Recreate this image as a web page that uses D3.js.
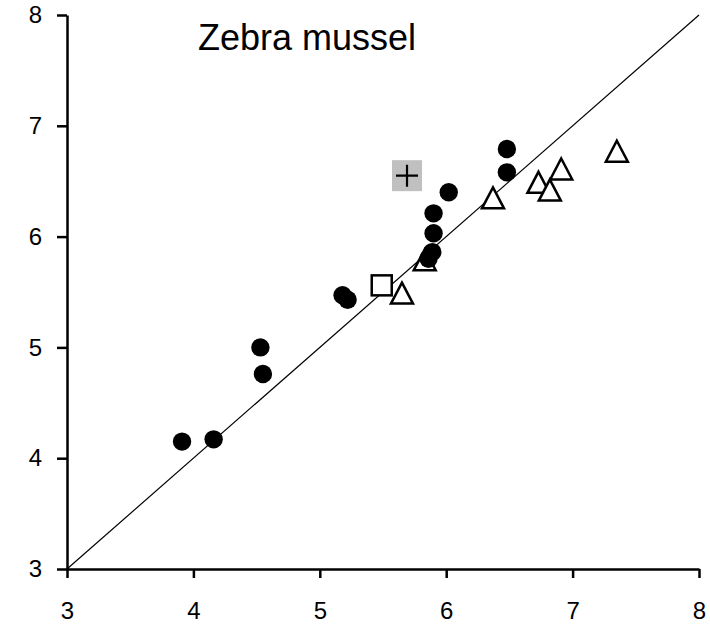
<!DOCTYPE html>
<html>
<head>
<meta charset="utf-8">
<script src="https://cdn.jsdelivr.net/npm/d3@7"></script>
<style>
  body { margin: 0; background: #fff; }
  svg { display: block; font-family: Arial, "Liberation Sans", sans-serif; }
</style>
</head>
<body>
<svg id="chart" width="710" height="629"></svg>
<script>
// chart values
var title = "Zebra mussel";
var ticks = [3, 4, 5, 6, 7, 8];

var circleX = [3.91, 4.16, 4.53, 4.55, 5.18, 5.22, 5.90, 5.90, 5.89, 5.86, 6.02, 6.48, 6.48];
var circleY = [4.15, 4.17, 5.00, 4.76, 5.47, 5.43, 6.21, 6.03, 5.86, 5.80, 6.40, 6.79, 6.58];

var triangleX = [5.65, 5.83, 6.37, 6.73, 6.82, 6.91, 7.35];
var triangleY = [5.49, 5.79, 6.35, 6.49, 6.42, 6.61, 6.77];

var squareX = [5.49];
var squareY = [5.56];

var plusX = [5.69];
var plusY = [6.55];

var svg = d3.select("#chart");

var x = d3.scaleLinear().domain([3, 8]).range([67, 699]);
var y = d3.scaleLinear().domain([3, 8]).range([569, 15]);

function pts(xs, ys){
	return xs.map(function(v, i){ return {x: v, y: ys[i]}; });
}

// 1:1 line
svg.append("line")
	.attr("x1", x(3)).attr("y1", y(3))
	.attr("x2", x(8)).attr("y2", y(8))
	.attr("stroke", "#000")
	.attr("stroke-width", 1.2);

// axes
var xAxis = svg.append("g")
	.attr("transform", "translate(0," + y(3) + ")")
	.call(d3.axisBottom(x).tickValues(ticks).tickFormat(d3.format("d"))
		.tickSize(9).tickPadding(24).tickSizeOuter(0));
var yAxis = svg.append("g")
	.attr("transform", "translate(" + x(3) + ",0)")
	.call(d3.axisLeft(y).tickValues(ticks).tickFormat(d3.format("d"))
		.tickSize(10).tickPadding(15).tickSizeOuter(0));

[xAxis, yAxis].forEach(function(a){
	a.select(".domain").attr("stroke-width", 2.5);
	a.selectAll(".tick line").attr("stroke-width", 2.5);
	a.selectAll("text")
		.attr("font-family", "Arial, 'Liberation Sans', sans-serif")
		.attr("font-size", 24)
		.attr("fill", "#000");
});
xAxis.selectAll("text").attr("dy", "0.71em");

svg.append("text")
	.attr("x", 198)
	.attr("y", 50)
	.attr("font-size", 36)
	.attr("fill", "#000")
	.text(title);

// plus marker with grey box
var plus = svg.selectAll("g.plus")
	.data(pts(plusX, plusY))
	.enter()
	.append("g")
	.attr("class", "plus")
	.attr("transform", function(d){ return "translate(" + x(d.x) + "," + y(d.y) + ")"; });
plus.append("rect")
	.attr("x", -15).attr("y", -15.5)
	.attr("width", 30).attr("height", 31)
	.attr("fill", "#c0c0c0");
plus.append("path")
	.attr("d", "M-11,0H11M0,-11V11")
	.attr("stroke", "#000")
	.attr("stroke-width", 2.2);

// square
svg.selectAll("rect.sq")
	.data(pts(squareX, squareY))
	.enter()
	.append("rect")
	.attr("class", "sq")
	.attr("x", function(d){ return x(d.x) - 10; })
	.attr("y", function(d){ return y(d.y) - 10; })
	.attr("width", 20).attr("height", 20)
	.attr("fill", "#fff")
	.attr("stroke", "#000")
	.attr("stroke-width", 2.5);

// triangles
svg.selectAll("path.tri")
	.data(pts(triangleX, triangleY))
	.enter()
	.append("path")
	.attr("class", "tri")
	.attr("transform", function(d){ return "translate(" + x(d.x) + "," + y(d.y) + ")"; })
	.attr("d", "M0,-10.5L11,10.5L-11,10.5Z")
	.attr("fill", "#fff")
	.attr("stroke", "#000")
	.attr("stroke-width", 2.5)
	.attr("stroke-linejoin", "miter");

// filled circles
svg.selectAll("circle.dot")
	.data(pts(circleX, circleY))
	.enter()
	.append("circle")
	.attr("class", "dot")
	.attr("cx", function(d){ return x(d.x); })
	.attr("cy", function(d){ return y(d.y); })
	.attr("r", 9.2)
	.attr("fill", "#000");
</script>
</body>
</html>
